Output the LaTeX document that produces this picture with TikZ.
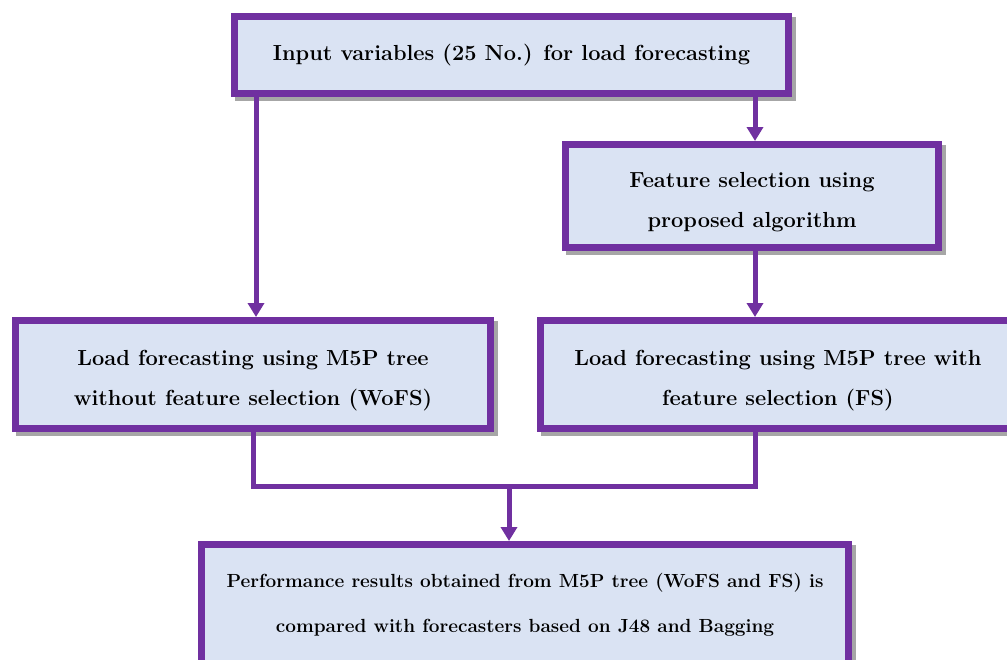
\documentclass[tikz,border=0pt]{standalone}
\usetikzlibrary{arrows.meta,shadows}
\definecolor{bordc}{HTML}{7030A0}
\definecolor{fillc}{HTML}{DAE3F3}
\begin{document}
\begin{tikzpicture}[x=1pt,y=-1pt,
  boxst/.style={draw=bordc, line width=7pt, fill=fillc, align=center, inner sep=0pt,
    font=\bfseries\fontsize{21.8}{40}\selectfont,
    drop shadow={shadow xshift=4pt, shadow yshift=-4pt, fill=black!35, draw=black!35, line width=7pt, opacity=1}},
  conn/.style={draw=bordc, line width=5pt},
  arr/.style={conn, -{Triangle[width=16pt,length=14pt]}}]
\useasboundingbox (0,0) rectangle (1007,659);
\clip (0,0) rectangle (1007,659);
\fill[white] (0,0) rectangle (1007,659);
\node[boxst, minimum width=554pt, minimum height=77pt] (inp) at (511.5,54.7) {Input variables (25 No.) for load forecasting};
\node[boxst, minimum width=373pt, minimum height=103pt] (fs) at (752,196) {\rule{0pt}{27pt}Feature selection using\\proposed algorithm};
\node[boxst, minimum width=475pt, minimum height=108pt] (wofs) at (253,374.5) {\rule{0pt}{27pt}Load forecasting using M5P tree\\without feature selection (WoFS)};
\node[boxst, minimum width=475pt, minimum height=108pt] (wfs) at (778,374.5) {\rule{0pt}{27pt}Load forecasting using M5P tree with\\feature selection (FS)};
\node[boxst, minimum width=647pt, minimum height=120pt, font=\bfseries\fontsize{19}{45}\selectfont] (perf) at (525,604.5) {Performance results obtained from M5P tree (WoFS and FS) is\\compared with forecasters based on J48 and Bagging};
\coordinate (cl) at (256,0);
\coordinate (cr) at (755,0);
\coordinate (cm) at (509,486);
\draw[arr] (inp.south -| cl) -- (wofs.north -| cl);
\draw[arr] (inp.south -| cr) -- (fs.north -| cr);
\draw[arr] (fs.south -| cr) -- (wfs.north -| cr);
\draw[conn] (wofs.south) |- (cr |- cm) -- (wfs.south -| cr);
\draw[arr] (cm) -- (perf.north -| cm);
\end{tikzpicture}
\end{document}
